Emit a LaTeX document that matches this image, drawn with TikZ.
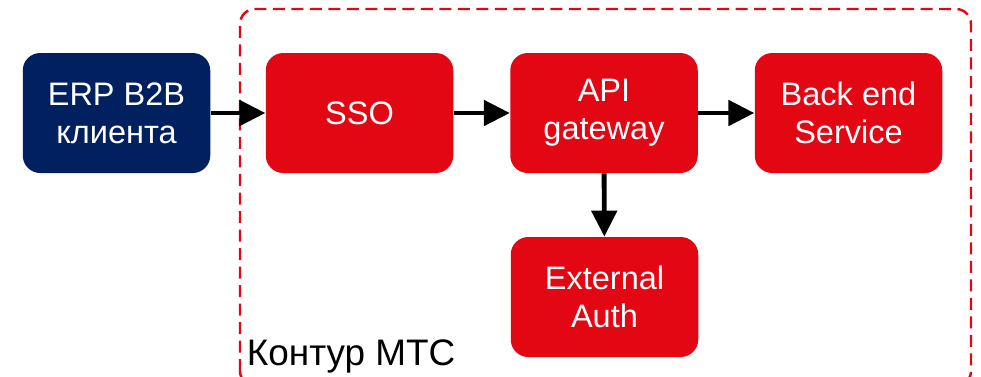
\documentclass[tikz,border=0pt]{standalone}
\usepackage{fontspec}
\setmainfont{Liberation Sans}
\usetikzlibrary{arrows.meta}
\definecolor{mtsred}{HTML}{E30613}
\definecolor{erpblue}{HTML}{002060}
\tikzset{
  block/.style={rounded corners=0.35cm, minimum width=3.75cm, minimum height=2.4cm,
    text=white, align=center, inner sep=0pt, font=\fontsize{18.5}{21.8}\selectfont},
  redblock/.style={block, fill=mtsred},
  flow/.style={-{Triangle[length=0.52cm,width=0.5cm]}, line width=2.8pt},
}
\begin{document}
\begin{tikzpicture}
    \useasboundingbox (0,0) rectangle (19.62,7.52);
    % contour
    \draw[mtsred, line width=1.4pt, dash pattern=on 0.24cm off 0.13cm, rounded corners=0.3cm]
        (4.8,-0.2) rectangle (19.42,7.34);
    \node[anchor=base west, inner sep=0pt, font=\fontsize{21}{25}\selectfont] (contour) at (4.93,0.22) {Контур МТС};
    % blocks
    \node[block, fill=erpblue] (erp) at (2.33,5.26) {ERP B2B\\клиента};
    \node[redblock] (sso) at (7.19,5.26) {SSO};
    \node[redblock] (api) at (12.08,5.26) {API\\gateway};
    \node[redblock] (back) at (16.97,5.26) {Back end\\Service};
    \node[redblock] (auth) at (12.09,1.58) {External\\Auth};
    % arrows
    \draw[flow] (erp) -- (sso);
    \draw[flow] (sso) -- (api);
    \draw[flow] (api) -- (back);
    \draw[flow] (api) -- (auth);
\end{tikzpicture}
\end{document}
